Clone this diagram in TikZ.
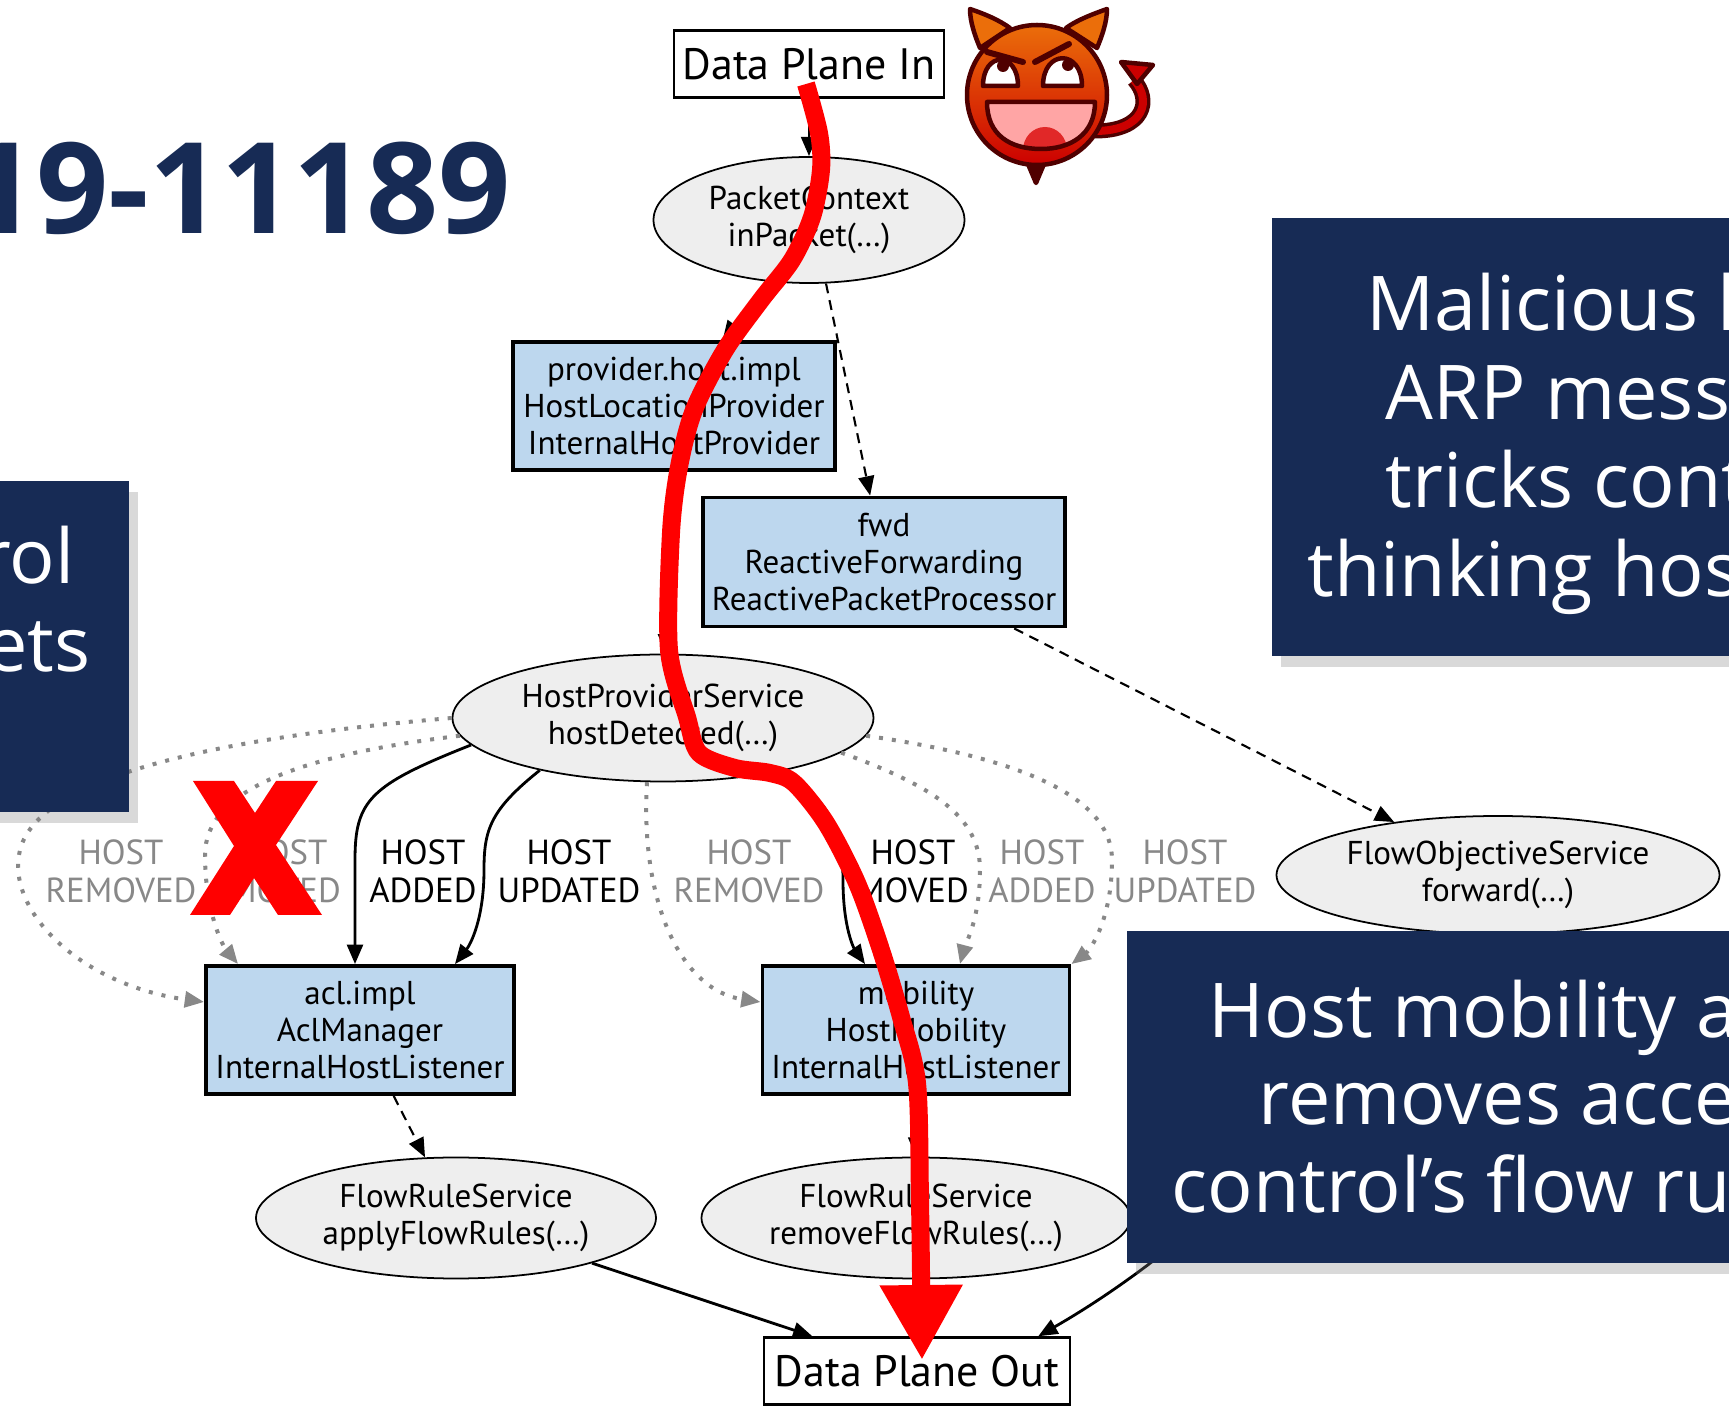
\documentclass[tikz,border=0pt]{standalone}
\usepackage{fontspec}
\setmainfont{PT Sans}
\newfontfamily\slidefont{Open Sans}
\usetikzlibrary{arrows.meta,shapes.geometric,shadows}

\definecolor{navy}{RGB}{23,43,85}
\definecolor{compblue}{RGB}{189,215,238}
\definecolor{callgray}{RGB}{238,238,238}
\definecolor{evtgray}{RGB}{136,136,136}
\definecolor{devilred}{RGB}{204,0,0}
\definecolor{devilorange}{RGB}{235,110,10}
\definecolor{devildark}{RGB}{80,0,0}
\definecolor{mouthpink}{RGB}{255,165,165}
\definecolor{tongue}{RGB}{225,40,40}

\tikzset{
  comp/.style={draw, line width=1.1pt, fill=compblue, align=center, inner sep=0pt,
    minimum height=12.8mm, font=\fontsize{9.4}{10.5}\selectfont},
  call/.style={draw, ellipse, line width=0.5pt, fill=callgray, align=center, inner sep=0pt,
    font=\fontsize{9.4}{10.5}\selectfont},
  plane/.style={draw, line width=0.7pt, inner sep=0pt, minimum height=6.7mm,
    font=\fontsize{12.5}{14}\selectfont},
  evt/.style={align=center, inner sep=0pt, font=\fontsize{9.9}{10.8}\selectfont},
  off/.style={evt, text=evtgray},
  uses/.style={->, line width=0.8pt},
  calls/.style={->, line width=0.6pt, dash pattern=on 1mm off 0.7mm},
  skip/.style={->, line width=0.4mm, evtgray, dash pattern=on 0.4mm off 0.9mm},
  note/.style={fill=navy, drop shadow={shadow xshift=0.9mm, shadow yshift=-1.1mm, opacity=0.3}},
  notetext/.style={text=white, anchor=base west, inner sep=0pt,
    font=\slidefont\fontsize{21.5}{25}\selectfont},
  attack/.style={line width=1.8mm, red, -{Triangle[length=7.5mm, width=7.8mm]}},
}

\begin{document}
\begin{tikzpicture}[x=0.1mm, y=-0.1mm, >={Triangle[length=5.5pt, width=4.5pt]}]
\useasboundingbox (0,0) rectangle (1729,1408);

\node[anchor=base east, inner sep=0pt, text=navy, font=\slidefont\bfseries\fontsize{36}{40}\selectfont]
  (cve) at (511,234) {19-11189};

\node[plane, minimum width=27mm] (din) at (809,64) {Data Plane In};
\node[call, minimum width=31.1mm, minimum height=12.6mm] (pctx) at (809,220) {PacketContext\\inPacket(…)};
\node[comp, minimum width=32.2mm] (hlp) at (674,406) {provider.host.impl\\HostLocationProvider\\InternalHostProvider};
\node[comp, minimum width=36.2mm, minimum height=12.9mm] (fwd) at (884,562) {fwd\\ReactiveForwarding\\ReactivePacketProcessor};
\node[call, minimum width=42.1mm, minimum height=12.7mm] (hps) at (663,718) {HostProviderService\\hostDetected(…)};
\node[call, minimum width=44.3mm, minimum height=11.8mm] (fos) at (1498,875) {FlowObjectiveService\\forward(…)};
\node[comp, minimum width=30.8mm] (acl) at (360,1030) {acl.impl\\AclManager\\InternalHostListener};
\node[comp, minimum width=30.7mm] (mob) at (916,1030) {mobility\\HostMobility\\InternalHostListener};
\node[call, minimum width=40mm, minimum height=12.1mm] (fra) at (456,1218) {FlowRuleService\\applyFlowRules(…)};
\node[call, minimum width=42.9mm, minimum height=12.1mm] (frr) at (916,1218) {FlowRuleService\\removeFlowRules(…)};
\node[plane, minimum width=30.6mm] (dout) at (917,1371) {Data Plane Out};

\node[off] (rm1) at (121,871) {HOST\\REMOVED};
\node[off] (mv1) at (285,871) {HOST\\MOVED};
\node[evt] (ad1) at (423,871) {HOST\\ADDED};
\node[evt] (up1) at (569,871) {HOST\\UPDATED};
\node[off] (rm2) at (749,871) {HOST\\REMOVED};
\node[evt] (mv2) at (913,871) {HOST\\MOVED};
\node[off] (ad2) at (1042,871) {HOST\\ADDED};
\node[off] (up2) at (1185,871) {HOST\\UPDATED};

\draw[uses] (din) -- (pctx);
\draw[calls] (pctx.235) -- (hlp);
\draw[calls] (pctx.285) -- (fwd);
\draw[uses] (hlp) -- (hps);
\draw[calls] (fwd) -- (fos);

\draw[skip] (hps.west) .. controls (250,735) and (40,770) .. (20,850)
  .. controls (5,910) and (80,985) .. ([yshift=2.8mm]acl.west);
\draw[skip] (hps.185) .. controls (300,755) and (205,790) .. (205,855)
  .. controls (205,910) and (222,945) .. ([xshift=3.4mm]acl.north west);
\draw[uses] (hps.188) .. controls (370,785) and (355,800) .. (355,860) -- ([xshift=-0.5mm]acl.north);
\draw[uses] (hps.203) .. controls (490,810) and (484,830) .. (484,870)
  .. controls (484,920) and (470,945) .. ([xshift=9.5mm]acl.north);

\draw[skip] (hps.256) .. controls (640,900) and (680,990) .. ([yshift=2.8mm]mob.west);
\draw[uses] (hps.336) .. controls (830,800) and (843,830) .. (843,880)
  .. controls (843,930) and (855,950) .. ([xshift=-5.1mm]mob.north);
\draw[skip] (hps.349) .. controls (930,785) and (980,815) .. (980,870)
  .. controls (980,920) and (965,945) .. ([xshift=4.4mm]mob.north);
\draw[skip] (hps.355) .. controls (1000,755) and (1112,790) .. (1112,860)
  .. controls (1112,920) and (1090,950) .. (mob.north east);

\draw[calls] (acl) -- (fra);
\draw[calls] (mob) -- (frr);
\draw[uses] (fra) -- (dout);
\draw[uses] (frr) -- (dout);
\draw[uses] (fos.240) .. controls (1330,1120) and (1180,1255) .. ([xshift=-3.3mm]dout.north east);

\fill[note] (-20,481) rectangle (129,812);
\fill[note] (1272,218) rectangle (1760,656);
\fill[note] (1127,931) rectangle (1760,1263);

\node[notetext, anchor=base east] (p1) at (75,584) {rol};
\node[notetext, anchor=base east] (p2) at (91,672) {ets};
\node[notetext] (m1) at (1366,331) {Malicious h};
\node[notetext] (m2) at (1385,420) {ARP messa};
\node[notetext] (m3) at (1385,508) {tricks cont};
\node[notetext] (m4) at (1307,597) {thinking hos};
\node[notetext] (h1) at (1208,1038) {Host mobility a};
\node[notetext] (h2) at (1258,1125) {removes acces};
\node[notetext] (h3) at (1171,1213) {control’s flow ru};

\draw[attack] plot[smooth] coordinates {(806,84) (819,133) (821,170) (812,217) (792,260) (761,300)
  (725,350) (694,410) (679,467) (671,533) (669,650) (687,717) (699,753) (735,768) (770,773)
  (794,783) (826,823) (857,883) (881,950) (901,1017) (917,1083) (920,1200) (922,1360)};

\fill[red] (193,781) -- (234,781) -- (255,813) -- (276,781) -- (318,781) -- (276,845) -- (322,915)
  -- (278,915) -- (254,878) -- (230,915) -- (190,915) -- (234,846) -- cycle;

\begin{scope}[line width=0.45mm, draw=devildark, line join=round]
  \draw[line width=1.5mm, devildark] (1095,131) .. controls (1145,131) and (1152,100) .. (1134,80);
  \draw[line width=0.8mm, devilred] (1095,131) .. controls (1145,131) and (1152,100) .. (1134,80);
  \filldraw[fill=devilred] (1121,62) -- (1153,65) -- (1137,84) -- cycle;
  \filldraw[fill=devilorange] (980,48) .. controls (975,36) and (970,22) .. (970,9)
    .. controls (985,14) and (999,20) .. (1010,28) -- cycle;
  \filldraw[fill=devilorange] (1066,28) .. controls (1077,20) and (1093,14) .. (1107,9)
    .. controls (1107,22) and (1102,36) .. (1097,48) -- cycle;
  \filldraw[fill=devildark] (1028,164) -- (1036,183) -- (1044,164) -- cycle;
  \shade[top color=devilorange, middle color=devilred, bottom color=devilred] (1037,95) circle (7.0mm);
  \draw (1037,95) circle (7.0mm);
  \filldraw[fill=white] (983,86) .. controls (983,51) and (1018,51) .. (1018,86) -- cycle;
  \filldraw[fill=white] (1043,86) .. controls (1043,49) and (1082,49) .. (1082,86) -- cycle;
  \fill[devildark] (1003,66) circle (0.6mm) (1068,65) circle (0.6mm);
  \draw[line width=0.6mm, line cap=round] (987,52) -- (1023,62) (1035,62) -- (1069,44);
  \fill[mouthpink] (987,102) -- (1095,102) .. controls (1095,135) and (1070,149) .. (1041,149)
    .. controls (1010,149) and (987,135) .. cycle;
  \begin{scope}
    \clip (987,102) -- (1095,102) .. controls (1095,135) and (1070,149) .. (1041,149)
      .. controls (1010,149) and (987,135) .. cycle;
    \fill[tongue] (1045,150) ellipse (2.2mm and 2.3mm);
  \end{scope}
  \draw (987,102) -- (1095,102) .. controls (1095,135) and (1070,149) .. (1041,149)
    .. controls (1010,149) and (987,135) .. cycle;
\end{scope}
\end{tikzpicture}
\end{document}
